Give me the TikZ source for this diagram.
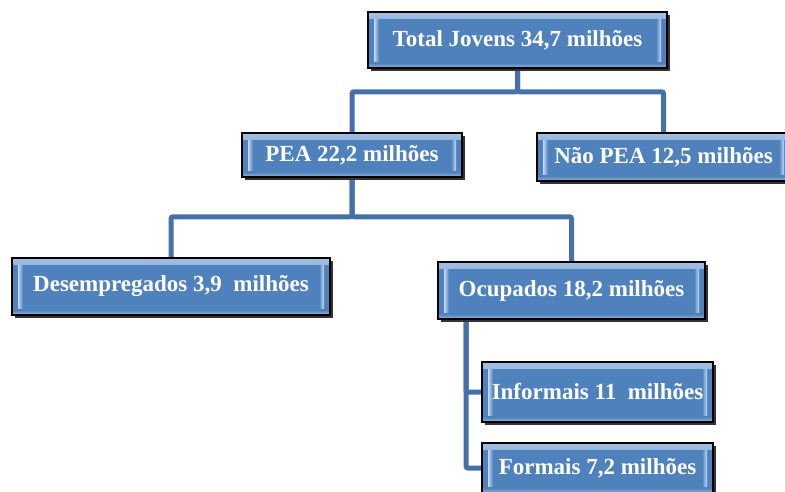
\documentclass[tikz,border=0pt]{standalone}
\usepackage{fontspec}
\setmainfont{Liberation Serif}
\usetikzlibrary{shadows,backgrounds}
\definecolor{boxblue}{HTML}{4F81BD}
\definecolor{linkblue}{HTML}{4570A9}
\definecolor{bevel}{HTML}{C6DBF3}
\tikzset{
  box/.style={draw=black, line width=1.6pt, fill=boxblue, inner sep=0pt,
    text=white, font=\bfseries\fontsize{23}{25}\selectfont,
    drop shadow={shadow xshift=3pt, shadow yshift=-3pt, fill=black!80, opacity=1},
    path picture={
      \fill[top color=bevel!70!boxblue, bottom color=boxblue]
        (path picture bounding box.north west) rectangle ([yshift=-6pt]path picture bounding box.north east);
      \fill[bottom color=bevel!60!boxblue, top color=boxblue]
        (path picture bounding box.south west) rectangle ([yshift=5pt]path picture bounding box.south east);
      \fill[left color=bevel, right color=boxblue]
        ([xshift=6pt,yshift=-7pt]path picture bounding box.north west) rectangle ([xshift=11pt,yshift=7pt]path picture bounding box.south west);
      \fill[right color=bevel, left color=boxblue]
        ([xshift=-6pt,yshift=-7pt]path picture bounding box.north east) rectangle ([xshift=-11pt,yshift=7pt]path picture bounding box.south east);
    }},
  conn/.style={draw=linkblue, line width=5pt, rounded corners=2pt}
}
\begin{document}
\begin{tikzpicture}[x=1pt,y=-1pt]
\path[use as bounding box, clip] (0,0) rectangle (785,491);
\node[box, minimum width=299pt, minimum height=56pt] (top) at (517.5,40) {Total Jovens 34,7 milhões};
\node[box, minimum width=220pt, minimum height=44pt] (pea) at (352,155) {PEA 22,2 milhões};
\node[box, minimum width=253pt, minimum height=48pt] (nao) at (663.5,157) {Não PEA 12,5 milhões};
\node[box, minimum width=318pt, minimum height=57pt] (des) at (171,286.5) {Desempregados 3,9\ \ milhões};
\node[box, minimum width=267pt, minimum height=57pt] (ocu) at (571.5,290.5) {Ocupados 18,2 milhões};
\node[box, minimum width=231pt, minimum height=60pt] (inf) at (597.5,392) {Informais 11\ \ milhões};
\node[box, minimum width=231pt, minimum height=50pt] (for) at (597.5,468) {Formais 7,2 milhões};
\coordinate (ov) at (466,319);
\begin{pgfonlayer}{background}
\draw[conn] (top.south) -- ++(0,23) -| (pea.north);
\draw[conn] (top.south) -- ++(0,23) -| (nao.north);
\draw[conn] (pea.south) -- ++(0,39) -| (des.north);
\draw[conn] (pea.south) -- ++(0,39) -| (ocu.north);
\draw[conn] (ov) |- (inf.west);
\draw[conn] (ov) |- (for.west);
\end{pgfonlayer}
\end{tikzpicture}
\end{document}
